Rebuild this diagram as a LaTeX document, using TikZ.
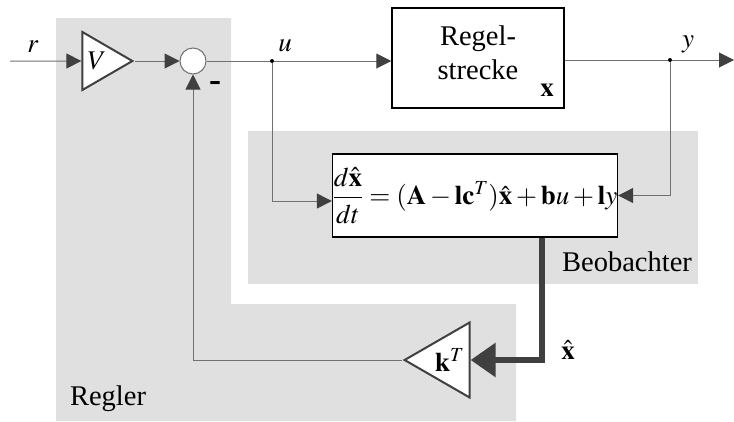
\documentclass[tikz,border=0pt]{standalone}
\usepackage{amsmath,amssymb}
\usepackage{mathptmx}
\usepackage{fontspec}
\setmainfont{Liberation Serif}
\newfontfamily\timesfont{Liberation Serif}
\usepackage{xcolor}
\usepackage{tikz}
\usetikzlibrary{calc, arrows.meta, positioning, shapes.geometric}

\definecolor{zonegray}{HTML}{E0E0E0}
\definecolor{wiregray}{HTML}{707070}
\definecolor{tipgray}{HTML}{404040}

\begin{document}
\begin{tikzpicture}[
    x=1pt, y=-1pt,
    every node/.style={font=\fontsize{27}{33}\selectfont, inner sep=0pt},
    txt/.style={font=\timesfont\fontsize{28.5}{34}\selectfont},
    wire/.style={draw=wiregray, line width=1pt},
    sig/.style={wire, -{Triangle[length=15pt, width=15pt, color=tipgray]}},
    bus/.style={draw=tipgray, line width=6pt, -{Triangle[length=25pt, width=33pt]}},
    block/.style={draw=black, line width=1.5pt, fill=white, rectangle},
    gain/.style={draw=tipgray, line width=2pt, fill=white, isosceles triangle,
      isosceles triangle stretches, inner sep=0pt},
    dot/.style={circle, fill=black, minimum size=4pt, inner sep=0pt},
  ]
  \useasboundingbox (0,0) rectangle (734,421);

  % Shaded zones
  \fill[zonegray] (56,18) -- (231,18) -- (231,304) -- (516,304)
    -- (516,421) -- (56,421) -- cycle;
  \fill[zonegray] (248,131) rectangle (698,284);
  \node[txt] (regler) at (108,399) {Regler};
  \node[txt] (beob) at (627,262) {Beobachter};

  % Forward path
  \coordinate (rin) at (10,61);
  \node[gain, minimum width=58pt, minimum height=50pt, anchor=apex] (V) at (135,61) {$V$};
  \node[circle, draw=wiregray, line width=1pt, fill=white, minimum size=26pt] (sum) at (193,61) {};
  \node[dot] (udot) at (272,61) {};
  \node[block, minimum width=172pt, minimum height=100pt] (plant) at (478,58) {};
  \node[txt, align=center] (plantlbl) at (478,53) {Regel-\\strecke};
  \node (plantx) at (547,90) {$\mathbf{x}$};
  \node[dot] (ydot) at (670,60) {};
  \coordinate (yout) at (734,60);

  % Observer and state feedback
  \node[block, minimum width=284pt, minimum height=83pt] (obs) at (475,195.5)
    {$\dfrac{d\hat{\mathbf{x}}}{dt}=(\mathbf{A}-\mathbf{l}\mathbf{c}^T)\hat{\mathbf{x}}+\mathbf{b}u+\mathbf{l}y$};
  \coordinate (xhatout) at ($(obs.south)+(67,0)$);
  \node[gain, shape border rotate=180, minimum width=75pt, minimum height=65pt, anchor=apex] (kT) at (402,360) {$\mathbf{k}^T$};

  % Connections
  \draw[sig] (rin) -- (V.west);
  \draw[sig] (V.apex) -- (sum.west);
  \draw[wire] (sum.east) -- (udot);
  \draw[sig] (udot) -- (plant.west |- udot);
  \draw[wire] (plant.east |- ydot) -- (ydot);
  \draw[sig] (ydot) -- (yout);
  \draw[sig] (ydot) |- (obs.east);
  \draw[sig] (udot) |- ($(obs.west)+(0,5.5)$);
  \draw[bus] (xhatout) |- (kT.east);
  \draw[sig] (kT.apex) -| (sum.south);

  % Labels
  \node (rlbl) at (33,47) {$r$};
  \node (ulbl) at (285,46) {$u$};
  \node (ylbl) at (688,44) {$y$};
  \node (minus) at (215,86) {\fontsize{36}{36}\selectfont\textbf{-}};
  \node (xhatlbl) at (568,350) {$\hat{\mathbf{x}}$};
\end{tikzpicture}
\end{document}
